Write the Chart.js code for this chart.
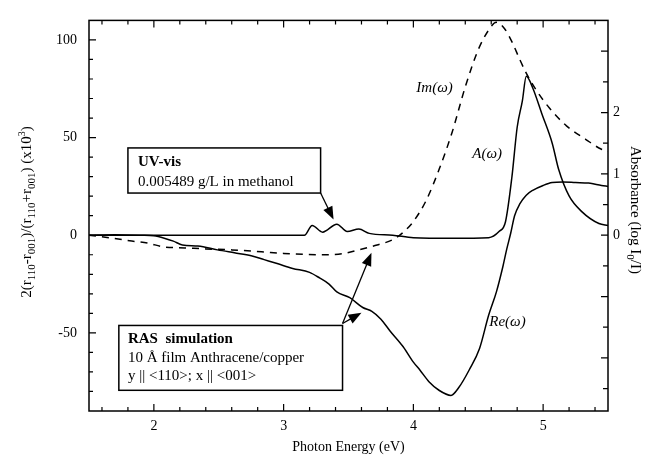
<!DOCTYPE html>
<html>
<head>
<meta charset="utf-8">
<script src="https://cdn.jsdelivr.net/npm/chart.js@4.4.0/dist/chart.umd.min.js"></script>
<style>
  html, body { margin: 0; padding: 0; background: #fff; }
</style>
</head>
<body>
<canvas id="chart" width="657" height="462"></canvas>
<script>
// RAS simulation, real part (left axis)
const reE = [1.5, 1.7, 1.9, 2.0, 2.08, 2.15, 2.22, 2.34, 2.49, 2.62, 2.75, 2.85, 2.95, 3.07, 3.2, 3.28, 3.35, 3.41, 3.51, 3.61, 3.68, 3.75, 3.82, 3.92, 4.0, 4.05, 4.12, 4.2, 4.29, 4.35, 4.43, 4.51, 4.58, 4.64, 4.69, 4.72, 4.75, 4.78, 4.82, 4.87, 4.92, 5.0, 5.07, 5.15, 5.25, 5.35, 5.45, 5.5]
const reVal = [0, 0.3, 0, -0.3, -1.5, -3, -5, -5.5, -7.5, -9, -10.5, -12.5, -14.5, -17, -19, -22, -25, -29, -32, -37, -39, -43, -49, -57, -65, -69, -75, -79.5, -82, -78, -69, -58, -41, -29, -16, -7, 1, 10, 16, 20.5, 23, 25.5, 27, 27.3, 27, 26.7, 25.5, 25]
// RAS simulation, imaginary part (left axis)
const imE = [1.5, 1.68, 1.83, 1.95, 2.08, 2.24, 2.4, 2.6, 2.83, 3.0, 3.15, 3.33, 3.45, 3.58, 3.72, 3.85, 3.93, 4.0, 4.1, 4.2, 4.3, 4.4, 4.5, 4.58, 4.64, 4.7, 4.76, 4.82, 4.87, 4.95, 5.05, 5.18, 5.33, 5.45, 5.5]
const imVal = [0, -1.5, -3, -4, -6, -6.5, -7, -7.5, -8.5, -9.3, -9.8, -10, -9.5, -7.5, -5, -2, 2, 7, 18, 34, 53, 76, 95, 105, 109, 106, 99, 90, 83, 74, 65, 56, 49, 44, 43]
// UV-vis absorbance (right axis)
const aE = [1.5, 2.0, 2.5, 3.0, 3.16, 3.22, 3.3, 3.41, 3.49, 3.58, 3.66, 3.84, 4.0, 4.3, 4.58, 4.66, 4.71, 4.76, 4.8, 4.84, 4.87, 4.92, 4.99, 5.07, 5.12, 5.2, 5.3, 5.43, 5.5]
const aVal = [0, 0, 0, 0, 0, 0.16, 0.05, 0.18, 0.06, 0.1, 0.03, 0, -0.04, -0.05, -0.04, 0.06, 0.22, 0.96, 1.76, 2.19, 2.59, 2.4, 1.98, 1.5, 1.07, 0.64, 0.38, 0.19, 0.16]

const xTicks = [2, 3, 4, 5]
const leftTicks = [-50, 0, 50, 100]
const rightTicks = [0, 1, 2]

const SERIF = '"Liberation Serif", "DejaVu Serif", serif'
const pts = (xs, ys) => xs.map((x, i) => ({ x: x, y: ys[i] }))

const line = (data, axis, dash) => ({
  data: data,
  yAxisID: axis,
  borderColor: '#000',
  borderWidth: 1.5,
  borderDash: dash,
  pointRadius: 0,
  fill: false,
  cubicInterpolationMode: 'monotone'
})

function arrow(ctx, x1, y1, x2, y2) {
  const a = Math.atan2(y2 - y1, x2 - x1)
  const len = 13, w = 5
  ctx.beginPath()
  ctx.moveTo(x1, y1)
  ctx.lineTo(x2 - Math.cos(a) * len * 0.8, y2 - Math.sin(a) * len * 0.8)
  ctx.stroke()
  ctx.beginPath()
  ctx.moveTo(x2, y2)
  ctx.lineTo(x2 - Math.cos(a) * len - Math.sin(a) * w, y2 - Math.sin(a) * len + Math.cos(a) * w)
  ctx.lineTo(x2 - Math.cos(a) * len + Math.sin(a) * w, y2 - Math.sin(a) * len - Math.cos(a) * w)
  ctx.closePath()
  ctx.fill()
}

// text made of pieces: [text, size, shift] drawn along the baseline
function richText(ctx, parts, x, y, align) {
  let total = 0
  parts.forEach(p => { ctx.font = p[1] + 'px ' + SERIF; total += ctx.measureText(p[0]).width })
  let cx = align === 'center' ? x - total / 2 : x
  ctx.textAlign = 'left'
  ctx.textBaseline = 'alphabetic'
  parts.forEach(p => {
    ctx.font = p[1] + 'px ' + SERIF
    ctx.fillText(p[0], cx, y + p[2])
    cx += ctx.measureText(p[0]).width
  })
}

const decor = {
  id: 'decor',
  afterDraw(chart) {
    const ctx = chart.ctx
    const { x, y, y1 } = chart.scales
    const a = chart.chartArea
    ctx.save()
    ctx.strokeStyle = '#000'
    ctx.fillStyle = '#000'
    ctx.lineWidth = 1.5
    ctx.strokeRect(a.left, a.top, a.right - a.left, a.bottom - a.top)

    // inward ticks
    ctx.lineWidth = 1.2
    ctx.beginPath()
    for (let v = 1.6; v < 5.5; v += 0.2) {
      const px = x.getPixelForValue(v)
      const major = Math.abs(v - Math.round(v)) < 0.01
      const l = major ? 7 : 4
      ctx.moveTo(px, a.bottom); ctx.lineTo(px, a.bottom - l)
      ctx.moveTo(px, a.top); ctx.lineTo(px, a.top + l)
    }
    for (let v = -80; v <= 100; v += 10) {
      const py = y.getPixelForValue(v)
      const l = v % 50 === 0 ? 7 : 4
      ctx.moveTo(a.left, py); ctx.lineTo(a.left + l, py)
    }
    for (let v = -2.5; v <= 3; v += 0.5) {
      const py = y1.getPixelForValue(v)
      const l = Number.isInteger(v) ? 7 : 5
      ctx.moveTo(a.right, py); ctx.lineTo(a.right - l, py)
    }
    ctx.stroke()

    // axis titles
    ctx.font = '14px ' + SERIF
    ctx.textAlign = 'center'
    ctx.textBaseline = 'middle'
    ctx.fillText('Photon Energy (eV)', (a.left + a.right) / 2, 447)

    ctx.save()
    ctx.translate(26, 212)
    ctx.rotate(-Math.PI / 2)
    richText(ctx, [
      ['2(r', 15, 0], ['110', 11, 4], ['-r', 15, 0], ['001', 11, 4], [')/(r', 15, 0],
      ['110', 11, 4], ['+r', 15, 0], ['001', 11, 4], [') (x10', 15, 0], ['3', 10, -6], [')', 15, 0]
    ], 0, 5, 'center')
    ctx.restore()

    ctx.save()
    ctx.translate(636, 210)
    ctx.rotate(Math.PI / 2)
    richText(ctx, [['Absorbance (log I', 15, 0], ['0', 11, 4], ['/I)', 15, 0]], 0, 5, 'center')
    ctx.restore()

    // curve labels
    const X = v => x.getPixelForValue(v)
    const Y = v => y.getPixelForValue(v)
    ctx.textAlign = 'left'
    ctx.textBaseline = 'alphabetic'
    ctx.font = 'italic 15px ' + SERIF
    ctx.fillText('Im(\u03c9)', X(4.023), Y(73.4))
    ctx.fillText('A(\u03c9)', X(4.454), Y(39.7))
    ctx.fillText('Re(\u03c9)', X(4.585), Y(-46.7))

    // UV-vis box
    ctx.lineWidth = 1.5
    const ub = [X(1.8), Y(44.7), X(3.285), Y(21.6)]
    ctx.fillStyle = '#fff'
    ctx.fillRect(ub[0], ub[1], ub[2] - ub[0], ub[3] - ub[1])
    ctx.strokeRect(ub[0], ub[1], ub[2] - ub[0], ub[3] - ub[1])
    ctx.fillStyle = '#000'
    ctx.font = 'bold 15px ' + SERIF
    ctx.fillText('UV-vis', X(1.877), Y(35.2))
    ctx.font = '15px ' + SERIF
    ctx.fillText('0.005489 g/L in methanol', X(1.877), Y(25.1))
    ctx.lineWidth = 1.3
    arrow(ctx, ub[2], ub[3], X(3.385), Y(8))

    // RAS box
    ctx.lineWidth = 1.5
    const rb = [X(1.73), Y(-46.2), X(3.454), Y(-79.4)]
    ctx.fillStyle = '#fff'
    ctx.fillRect(rb[0], rb[1], rb[2] - rb[0], rb[3] - rb[1])
    ctx.strokeRect(rb[0], rb[1], rb[2] - rb[0], rb[3] - rb[1])
    ctx.fillStyle = '#000'
    ctx.font = 'bold 15px ' + SERIF
    ctx.fillText('RAS  simulation', X(1.8), Y(-55.3))
    ctx.font = '15px ' + SERIF
    ctx.fillText('10 \u00c5 film Anthracene/copper', X(1.8), Y(-64.8))
    ctx.fillText('y || <110>; x || <001>', X(1.8), Y(-73.9))
    ctx.lineWidth = 1.3
    arrow(ctx, rb[2], rb[1] - 2, X(3.677), Y(-9))
    arrow(ctx, rb[2], rb[1] - 2, X(3.6), Y(-39.7))
    ctx.restore()
  }
}

const tickFont = { family: SERIF, size: 14 }
const axisBase = (min, max, list, pos, pad) => ({
  type: 'linear',
  position: pos,
  min: min,
  max: max,
  grid: { display: false, drawTicks: false },
  border: { display: false },
  ticks: { color: '#000', font: tickFont, padding: pad },
  afterBuildTicks: s => { s.ticks = list.map(v => ({ value: v })) }
})

const yLeft = axisBase(-90, 110, leftTicks, 'left', 12)
yLeft.afterFit = s => { s.width = 89 }
const yRight = axisBase(-2.866, 3.502, rightTicks, 'right', 5)
yRight.afterFit = s => { s.width = 49 }
const xAxis = axisBase(1.5, 5.5, xTicks, 'bottom', 7)
xAxis.afterFit = s => { s.height = 51 }

new Chart(document.getElementById('chart'), {
  type: 'line',
  data: {
    datasets: [
      line(pts(reE, reVal), 'y', []),
      line(pts(imE, imVal), 'y', [7, 6]),
      line(pts(aE, aVal), 'y1', [])
    ]
  },
  options: {
    responsive: false,
    animation: false,
    layout: { padding: { top: 13, left: 0, right: 0, bottom: 0 } },
    plugins: { legend: { display: false }, tooltip: { enabled: false } },
    scales: { x: xAxis, y: yLeft, y1: yRight }
  },
  plugins: [decor]
})
</script>
</body>
</html>
